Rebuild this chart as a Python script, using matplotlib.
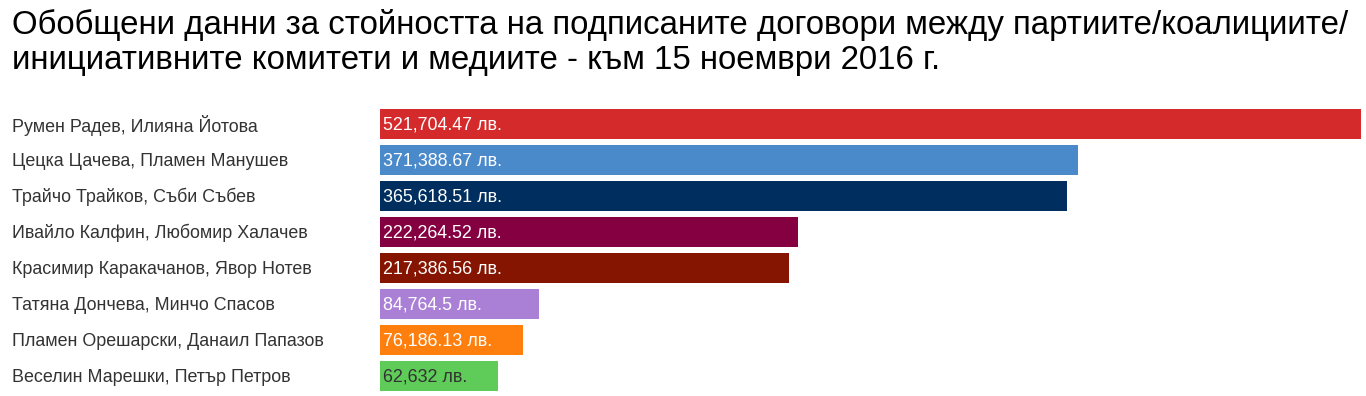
import matplotlib.pyplot as plt
from matplotlib import transforms

plt.rcParams['font.family'] = ['Liberation Sans', 'DejaVu Sans']

title = ("Обобщени данни за стойността на подписаните договори между партиите/коалициите/\n"
         "инициативните комитети и медиите - към 15 ноември 2016 г.")

names = [
    "Румен Радев, Илияна Йотова",
    "Цецка Цачева, Пламен Манушев",
    "Трайчо Трайков, Съби Събев",
    "Ивайло Калфин, Любомир Халачев",
    "Красимир Каракачанов, Явор Нотев",
    "Татяна Дончева, Минчо Спасов",
    "Пламен Орешарски, Данаил Папазов",
    "Веселин Марешки, Петър Петров",
]
values = [521704.47, 371388.67, 365618.51, 222264.52, 217386.56, 84764.5, 76186.13, 62632]
value_labels = ["521,704.47 лв.", "371,388.67 лв.", "365,618.51 лв.", "222,264.52 лв.",
                "217,386.56 лв.", "84,764.5 лв.", "76,186.13 лв.", "62,632 лв."]
colors = ["#d52a2b", "#4a8acb", "#002f5f", "#840041", "#851500",
          "#aa7fd6", "#ff7f0e", "#5fcb58"]
label_colors = ["white"] * 7 + ["#333333"]

W, H = 1366, 396
fig = plt.figure(figsize=(W / 100, H / 100), dpi=100)

# axes placed in pixel terms: bars from x=380 to 1361, rows 36px from y=106
left, right = 380, 1361
top, bottom = 106, 394
ax = fig.add_axes([left / W, 1 - bottom / H, (right - left) / W, (bottom - top) / H])
ax.set_xlim(0, max(values))
ax.set_ylim(len(values) - 0.5, -0.5)
ax.axis('off')

ypos = list(range(len(values)))
ax.barh(ypos, values, height=30 / 36, color=colors)

tr = transforms.blended_transform_factory(fig.transFigure, ax.transData)
shift = ax.transData + transforms.ScaledTranslation(3 / 100, -1 / 100, fig.dpi_scale_trans)
for i, (n, v, lab, lc) in enumerate(zip(names, values, value_labels, label_colors)):
    ax.text(12 / W, i + 0.03, n, transform=tr, ha='left', va='center', fontsize=12.9, color='#333333')
    ax.text(0, i, lab, ha='left', va='center', fontsize=12.9, color=lc, transform=shift)

fig.text(12 / W, 1 - 9 / H, title, ha='left', va='top', fontsize=23.8, color='black',
         linespacing=1.15)

fig.savefig("out.png", dpi=100)
